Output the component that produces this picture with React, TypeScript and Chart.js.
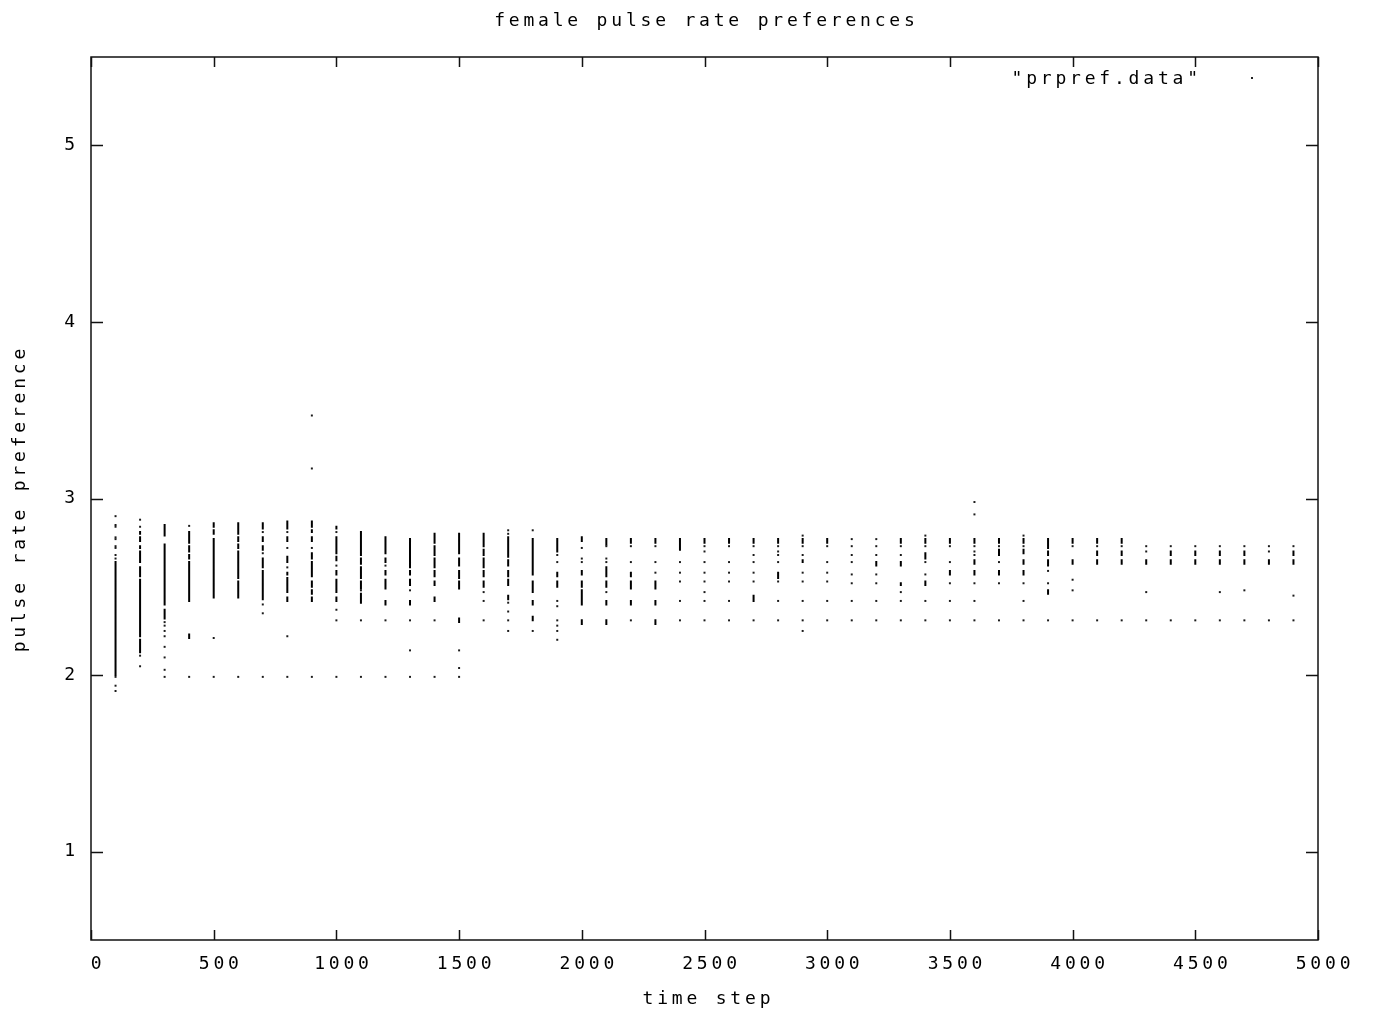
import React, { useEffect, useRef } from 'react';
import { Chart, registerables } from 'chart.js';

Chart.register(...registerables);

// ---- data ----
const timeSteps = [
  100, 200, 300, 400, 500, 600, 700, 800, 900, 1000,
  1100, 1200, 1300, 1400, 1500, 1600, 1700, 1800, 1900, 2000,
  2100, 2200, 2300, 2400, 2500, 2600, 2700, 2800, 2900, 3000,
  3100, 3200, 3300, 3400, 3500, 3600, 3700, 3800, 3900, 4000,
  4100, 4200, 4300, 4400, 4500, 4600, 4700, 4800, 4900,
];

// isolated preference values per time step
const isolatedPrefs: number[][] = [
  [2.90, 2.85, 2.84, 2.78, 2.77, 2.73, 2.72, 2.68, 2.66, 1.99, 1.94, 1.91],
  [2.88, 2.84, 2.11, 2.05],
  [2.30, 2.28, 2.25, 2.22, 2.16, 2.10, 2.03, 1.99],
  [2.845, 1.99],
  [2.21, 1.99],
  [1.99],
  [2.81, 2.69, 2.40, 2.35, 1.99],
  [2.81, 2.72, 2.61, 2.22, 1.99],
  [3.47, 3.17, 2.72, 1.99],
  [2.81, 2.62, 2.37, 2.31, 1.99],
  [2.48, 2.31, 1.99],
  [2.62, 2.31, 1.99],
  [2.48, 2.31, 2.14, 1.99],
  [2.31, 1.99],
  [2.14, 2.04, 1.99],
  [2.47, 2.42, 2.31],
  [2.82, 2.80, 2.41, 2.36, 2.31, 2.25],
  [2.82, 2.25],
  [2.68, 2.64, 2.42, 2.39, 2.31, 2.28, 2.25, 2.20],
  [2.72, 2.66, 2.64],
  [2.73, 2.66, 2.64, 2.47],
  [2.73, 2.64, 2.31],
  [2.73, 2.64, 2.58],
  [2.64, 2.58, 2.53, 2.42, 2.31],
  [2.73, 2.70, 2.64, 2.58, 2.53, 2.47, 2.42, 2.31],
  [2.73, 2.64, 2.58, 2.53, 2.42, 2.31],
  [2.73, 2.68, 2.64, 2.58, 2.53, 2.31],
  [2.73, 2.70, 2.68, 2.64, 2.53, 2.42, 2.31],
  [2.79, 2.73, 2.68, 2.58, 2.53, 2.42, 2.31, 2.25],
  [2.73, 2.64, 2.58, 2.53, 2.42, 2.31],
  [2.77, 2.73, 2.68, 2.64, 2.57, 2.52, 2.42, 2.31],
  [2.77, 2.73, 2.68, 2.57, 2.52, 2.42, 2.31],
  [2.73, 2.68, 2.47, 2.42, 2.31],
  [2.79, 2.73, 2.64, 2.57, 2.42, 2.31],
  [2.73, 2.64, 2.52, 2.42, 2.31],
  [2.98, 2.91, 2.73, 2.70, 2.68, 2.52, 2.42, 2.31],
  [2.73, 2.64, 2.52, 2.31],
  [2.79, 2.73, 2.52, 2.42, 2.31],
  [2.59, 2.52, 2.31],
  [2.73, 2.54, 2.48, 2.31],
  [2.73, 2.31],
  [2.73, 2.31],
  [2.73, 2.70, 2.47, 2.31],
  [2.73, 2.31],
  [2.73, 2.31],
  [2.73, 2.47, 2.31],
  [2.73, 2.48, 2.31],
  [2.73, 2.70, 2.31],
  [2.73, 2.45, 2.31],
];

// densely packed preference ranges [low, high] per time step
const denseRanges: number[][][] = [
  [[2.53, 2.64], [2.07, 2.52], [2.00, 2.06]],
  [[2.80, 2.81], [2.76, 2.78], [2.72, 2.73], [2.64, 2.70], [2.56, 2.61], [2.22, 2.54], [2.13, 2.20]],
  [[2.82, 2.85], [2.79, 2.81], [2.62, 2.74], [2.53, 2.61], [2.40, 2.52], [2.32, 2.37]],
  [[2.75, 2.81], [2.70, 2.73], [2.66, 2.68], [2.53, 2.64], [2.42, 2.52], [2.21, 2.23]],
  [[2.84, 2.86], [2.80, 2.82], [2.65, 2.77], [2.44, 2.64]],
  [[2.80, 2.86], [2.76, 2.78], [2.72, 2.74], [2.55, 2.70], [2.44, 2.53]],
  [[2.83, 2.86], [2.76, 2.78], [2.71, 2.73], [2.61, 2.66], [2.43, 2.59]],
  [[2.83, 2.87], [2.76, 2.78], [2.64, 2.67], [2.57, 2.58], [2.47, 2.55], [2.42, 2.44]],
  [[2.84, 2.87], [2.81, 2.82], [2.76, 2.78], [2.66, 2.69], [2.61, 2.64], [2.56, 2.60], [2.50, 2.53], [2.46, 2.48], [2.42, 2.44]],
  [[2.83, 2.84], [2.69, 2.78], [2.65, 2.67], [2.57, 2.59], [2.47, 2.54], [2.42, 2.44]],
  [[2.68, 2.81], [2.63, 2.66], [2.55, 2.61], [2.49, 2.53], [2.41, 2.46]],
  [[2.69, 2.78], [2.64, 2.66], [2.57, 2.59], [2.49, 2.54], [2.40, 2.42]],
  [[2.67, 2.77], [2.61, 2.66], [2.57, 2.59], [2.51, 2.54], [2.40, 2.42]],
  [[2.75, 2.80], [2.68, 2.73], [2.61, 2.66], [2.56, 2.59], [2.51, 2.53], [2.42, 2.44]],
  [[2.69, 2.80], [2.62, 2.66], [2.55, 2.59], [2.49, 2.53], [2.30, 2.32]],
  [[2.73, 2.80], [2.68, 2.71], [2.61, 2.66], [2.56, 2.59], [2.50, 2.53]],
  [[2.70, 2.78], [2.67, 2.69], [2.62, 2.65], [2.56, 2.59], [2.51, 2.54], [2.43, 2.45]],
  [[2.57, 2.77], [2.47, 2.53], [2.40, 2.42], [2.31, 2.33]],
  [[2.70, 2.77], [2.56, 2.58], [2.50, 2.53]],
  [[2.76, 2.78], [2.57, 2.59], [2.50, 2.53], [2.40, 2.48], [2.29, 2.31]],
  [[2.74, 2.77], [2.56, 2.61], [2.50, 2.53], [2.40, 2.42], [2.29, 2.31]],
  [[2.75, 2.77], [2.56, 2.58], [2.49, 2.53], [2.40, 2.42]],
  [[2.75, 2.77], [2.49, 2.53], [2.40, 2.42], [2.29, 2.31]],
  [[2.71, 2.77]],
  [[2.75, 2.77]],
  [[2.75, 2.77]],
  [[2.75, 2.77], [2.42, 2.45]],
  [[2.75, 2.77], [2.55, 2.58]],
  [[2.75, 2.77], [2.64, 2.65]],
  [[2.75, 2.77]],
  [],
  [[2.62, 2.64]],
  [[2.75, 2.77], [2.62, 2.64], [2.51, 2.52]],
  [[2.75, 2.77], [2.66, 2.69], [2.51, 2.53]],
  [[2.75, 2.77], [2.57, 2.59]],
  [[2.75, 2.77], [2.63, 2.65], [2.57, 2.59]],
  [[2.75, 2.77], [2.68, 2.71], [2.57, 2.59]],
  [[2.75, 2.77], [2.69, 2.71], [2.63, 2.65], [2.57, 2.59]],
  [[2.72, 2.77], [2.68, 2.70], [2.62, 2.65], [2.46, 2.48]],
  [[2.75, 2.77], [2.63, 2.65]],
  [[2.75, 2.77], [2.68, 2.70], [2.63, 2.65]],
  [[2.75, 2.77], [2.68, 2.70], [2.63, 2.65]],
  [[2.63, 2.65]],
  [[2.68, 2.70], [2.63, 2.65]],
  [[2.68, 2.70], [2.63, 2.65]],
  [[2.68, 2.70], [2.63, 2.65]],
  [[2.68, 2.70], [2.63, 2.65]],
  [[2.63, 2.65]],
  [[2.68, 2.70], [2.63, 2.65]],
];

const xTickValues = [0, 500, 1000, 1500, 2000, 2500, 3000, 3500, 4000, 4500, 5000];
const yTickValues = [1, 2, 3, 4, 5];

const chartTitle = 'female pulse rate preferences';
const xAxisTitle = 'time step';
const yAxisTitle = 'pulse rate preference';
const seriesLabel = '"prpref.data"';

const FONT_FAMILY = '"DejaVu Sans Mono", "Liberation Mono", monospace';
const FONT_SIZE = 18;
const SPACING_PX = 3.8;
const LETTER_SPACING = `${SPACING_PX}px`;

function setSpacing(chart: any) {
  try {
    chart.ctx.letterSpacing = LETTER_SPACING;
  } catch (e) {
    /* ignore */
  }
}

const gnuplotPlugin = {
  id: 'gnuplotLook',
  beforeUpdate(chart: any) { setSpacing(chart); },
  beforeLayout(chart: any) { setSpacing(chart); },
  beforeDraw(chart: any) { setSpacing(chart); },
  afterDraw(chart: any) {
    const ctx: CanvasRenderingContext2D = chart.ctx;
    const { left, right, top, bottom } = chart.chartArea;
    const xs = chart.scales.x;
    const ys = chart.scales.y;
    ctx.save();
    (ctx as any).letterSpacing = LETTER_SPACING;
    ctx.strokeStyle = '#111';
    ctx.lineWidth = 1.5;
    ctx.strokeRect(left, top, right - left, bottom - top);
    ctx.beginPath();
    xTickValues.forEach((v) => {
      const px = Math.round(xs.getPixelForValue(v)) + 0.5;
      ctx.moveTo(px, bottom);
      ctx.lineTo(px, bottom - 10);
      ctx.moveTo(px, top);
      ctx.lineTo(px, top + 10);
    });
    yTickValues.forEach((v) => {
      const py = Math.round(ys.getPixelForValue(v)) + 0.5;
      ctx.moveTo(left, py);
      ctx.lineTo(left + 12, py);
      ctx.moveTo(right, py);
      ctx.lineTo(right - 12, py);
    });
    ctx.stroke();

    ctx.fillStyle = '#000';
    ctx.font = `${FONT_SIZE}px ${FONT_FAMILY}`;
    ctx.textBaseline = 'middle';
    ctx.textAlign = 'center';
    ctx.fillText(chartTitle, (left + right) / 2 + SPACING_PX / 2, 21);
    ctx.fillText(xAxisTitle, (left + right) / 2 + 2 + SPACING_PX / 2, 999);

    ctx.save();
    ctx.translate(20, (top + bottom) / 2 + 2);
    ctx.rotate(-Math.PI / 2);
    ctx.fillText(yAxisTitle, SPACING_PX / 2, 0);
    ctx.restore();

    // key
    ctx.textAlign = 'right';
    ctx.fillText(seriesLabel, 1198 + SPACING_PX, 79);
    ctx.fillStyle = '#222';
    ctx.fillRect(1251, 77, 2, 2);
    ctx.restore();
  },
};

export default function App() {
  const canvasRef = useRef<HTMLCanvasElement>(null);

  useEffect(() => {
    const canvas = canvasRef.current;
    if (!canvas) return;

    const dotPoints = timeSteps.flatMap((x, i) => isolatedPrefs[i].map((y) => ({ x, y })));
    const rangePoints: { x: number; y: number | null }[] = [];
    timeSteps.forEach((x, i) => {
      denseRanges[i].forEach(([lo, hi]) => {
        rangePoints.push({ x, y: lo }, { x, y: hi }, { x, y: null });
      });
    });

    const tickFont = { family: FONT_FAMILY, size: FONT_SIZE };

    const chart = new Chart(canvas, {
      type: 'scatter',
      data: {
        datasets: [
          {
            label: 'dense',
            data: rangePoints as any,
            showLine: true,
            spanGaps: false,
            borderColor: '#000',
            borderWidth: 2,
            borderCapStyle: 'square',
            pointRadius: 0,
            pointHoverRadius: 0,
            tension: 0,
          } as any,
          {
            label: seriesLabel,
            data: dotPoints,
            showLine: false,
            pointStyle: 'rect',
            pointRadius: 1.4,
            pointHoverRadius: 1.4,
            pointBorderWidth: 0,
            backgroundColor: '#1a1a1a',
            borderColor: '#1a1a1a',
          } as any,
        ],
      },
      options: {
        responsive: false,
        animation: false,
        events: [],
        layout: { padding: { top: 57, right: 57, left: 0, bottom: 0 } },
        plugins: {
          legend: { display: false },
          tooltip: { enabled: false },
          title: { display: false },
        },
        scales: {
          x: {
            type: 'linear',
            min: 0,
            max: 5000,
            afterBuildTicks: (s: any) => {
              s.ticks = xTickValues.map((v) => ({ value: v }));
            },
            afterFit: (s: any) => {
              s.height = 74;
              s.paddingLeft = 0;
              s.paddingRight = 0;
            },
            grid: { display: false, drawTicks: false },
            border: { display: false },
            ticks: {
              font: tickFont,
              color: '#000',
              padding: 14,
              labelOffset: 7,
              maxRotation: 0,
              minRotation: 0,
              autoSkip: false,
              callback: (v: any) => String(v),
            },
          },
          y: {
            type: 'linear',
            min: 0.5,
            max: 5.5,
            afterBuildTicks: (s: any) => {
              s.ticks = yTickValues.map((v) => ({ value: v }));
            },
            afterFit: (s: any) => {
              s.width = 91;
              s.paddingTop = 0;
              s.paddingBottom = 0;
            },
            grid: { display: false, drawTicks: false },
            border: { display: false },
            ticks: {
              font: tickFont,
              color: '#000',
              padding: 12,
              autoSkip: false,
              callback: (v: any) => String(v),
            },
          },
        },
      } as any,
      plugins: [gnuplotPlugin],
    });

    return () => chart.destroy();
  }, []);

  return (
    <div style={{ position: 'fixed', left: 0, top: 0, width: 1375, height: 1014, background: '#fff' }}>
      <canvas ref={canvasRef} width={1375} height={1014} style={{ display: 'block', width: 1375, height: 1014 }} />
    </div>
  );
}
